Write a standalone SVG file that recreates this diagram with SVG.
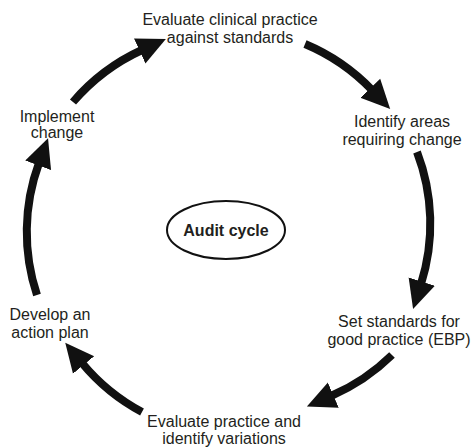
<svg xmlns="http://www.w3.org/2000/svg" width="471" height="447" viewBox="0 0 471 447">
  <style>
    .lbl { font-family: "Liberation Sans", Arial, sans-serif; font-size: 16px; fill: #231f20; text-anchor: middle; }
    .hub { font-family: "Liberation Sans", Arial, sans-serif; font-size: 16px; font-weight: bold; fill: #231f20; text-anchor: middle; }
    .flow { fill: none; stroke: #111; stroke-width: 8; marker-end: url(#head); }
  </style>
  <defs>
    <marker id="head" markerUnits="userSpaceOnUse" markerWidth="30" markerHeight="30" viewBox="0 -12 24 24" refX="2" refY="0" orient="auto">
      <path d="M0,-11 L23,0 L0,11 Z" fill="#111"/>
    </marker>
  </defs>
  <rect width="471" height="447" fill="#fff"/>

  <!-- cycle connectors -->
  <g id="connectors">
    <path class="flow" d="M305,44 A200,200 0 0 1 372,90"/>
    <path class="flow" d="M417,152 A200,200 0 0 1 421,284"/>
    <path class="flow" d="M392,355 A200,200 0 0 1 331,396"/>
    <path class="flow" d="M142,412 A200,200 0 0 1 82,363"/>
    <path class="flow" d="M37,295 A200,200 0 0 1 39,163"/>
    <path class="flow" d="M73,102 A200,200 0 0 1 142,50"/>
  </g>

  <g id="hub">
    <ellipse cx="226" cy="230" rx="59" ry="29" fill="#fff" stroke="#111" stroke-width="2"/>
    <text class="hub" x="226" y="236">Audit cycle</text>
  </g>

  <g id="evaluate-clinical">
    <text class="lbl" x="230" y="25">Evaluate clinical practice</text>
    <text class="lbl" x="230" y="43">against standards</text>
  </g>
  <g id="identify-areas">
    <text class="lbl" x="402" y="127">Identify areas</text>
    <text class="lbl" x="402" y="144.5">requiring change</text>
  </g>
  <g id="set-standards">
    <text class="lbl" x="399" y="327">Set standards for</text>
    <text class="lbl" x="399" y="345">good practice (EBP)</text>
  </g>
  <g id="evaluate-practice">
    <text class="lbl" x="224" y="427">Evaluate practice and</text>
    <text class="lbl" x="224" y="444">identify variations</text>
  </g>
  <g id="action-plan">
    <text class="lbl" x="50" y="320">Develop an</text>
    <text class="lbl" x="50" y="338">action plan</text>
  </g>
  <g id="implement">
    <text class="lbl" x="57" y="122">Implement</text>
    <text class="lbl" x="57" y="138">change</text>
  </g>
</svg>
